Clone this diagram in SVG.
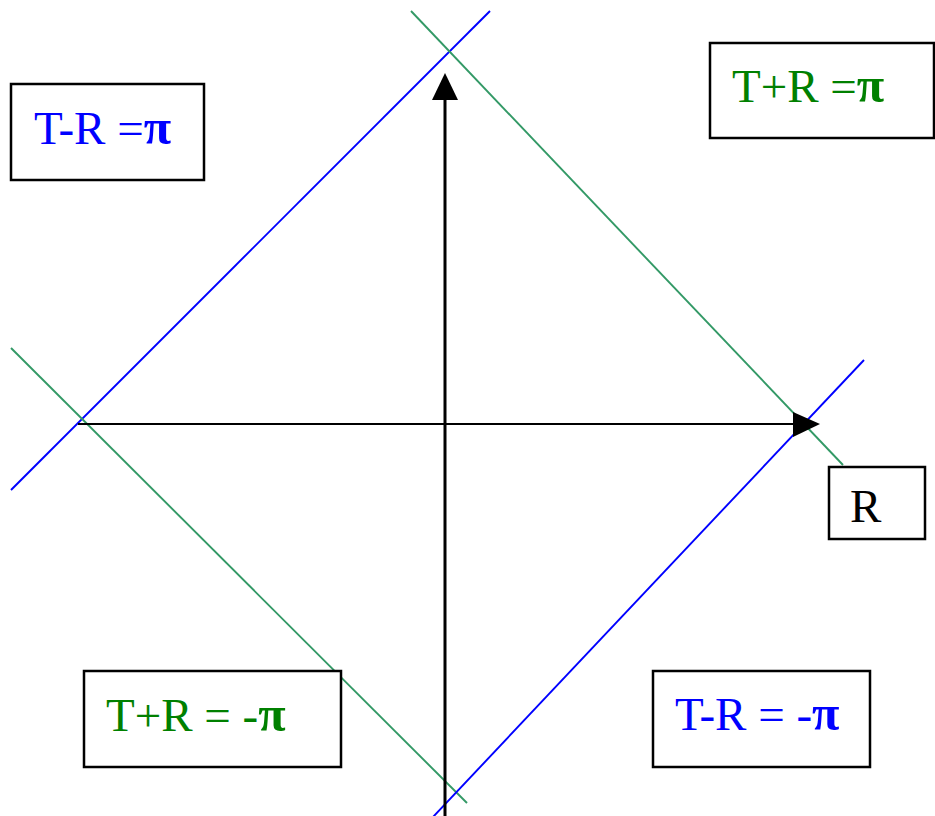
<svg xmlns="http://www.w3.org/2000/svg" width="935" height="816" viewBox="0 0 935 816">
<style>
.box{fill:#fff;stroke:#000;stroke-width:2.5}
.t{font-family:"Liberation Serif","Times New Roman",serif;font-size:47px}
.pi{font-weight:bold;font-size:50px}
.b{fill:#0000ff}
.g{fill:#008000}
.bl{stroke:#0000ff;stroke-width:1.9;fill:none}
.gl{stroke:#339966;stroke-width:1.9;fill:none}
</style>
<rect width="935" height="816" fill="#fff"/>
<g id="connectors">
<line class="bl" x1="11" y1="490" x2="490" y2="11"/>
<line class="gl" x1="411" y1="11" x2="843" y2="465"/>
<line class="gl" x1="11" y1="348" x2="467" y2="803"/>
<line class="bl" x1="864" y1="360" x2="433" y2="817"/>
<line x1="78" y1="424" x2="795" y2="424" stroke="#000" stroke-width="2"/>
<polygon points="793,412 820,424 793,437" fill="#000"/>
<line x1="445" y1="816" x2="445" y2="98" stroke="#000" stroke-width="3"/>
<polygon points="432,100 445,73 458,100" fill="#000"/>
</g>
<g id="tr-pi">
<rect class="box" x="11" y="84" width="193" height="96"/>
<text class="t b" x="34" y="144">T-R =<tspan class="pi">π</tspan></text>
</g>
<g id="tpr-pi">
<rect class="box" x="710" y="43" width="224" height="95"/>
<text class="t g" x="732" y="102">T+R =<tspan class="pi">π</tspan></text>
</g>
<g id="r-label">
<rect class="box" x="829" y="467" width="96" height="72"/>
<text class="t" x="850" y="522" fill="#000">R</text>
</g>
<g id="tpr-mpi">
<rect class="box" x="84" y="671" width="257" height="96"/>
<text class="t g" x="106" y="731">T+R = -<tspan class="pi">π</tspan></text>
</g>
<g id="tr-mpi">
<rect class="box" x="653" y="671" width="217" height="96"/>
<text class="t b" x="675" y="730">T-R = -<tspan class="pi">π</tspan></text>
</g>
</svg>
